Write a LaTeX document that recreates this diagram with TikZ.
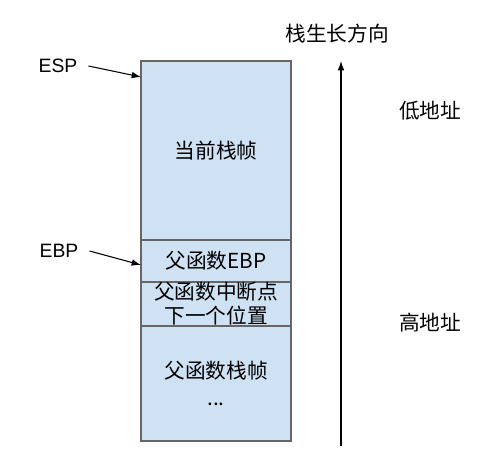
\documentclass[tikz,border=0pt]{standalone}
\usepackage{fontspec}
\setmainfont{Liberation Sans}
\newfontfamily\cjk{Noto Sans CJK SC}
\usetikzlibrary{positioning,arrows.meta}
\definecolor{segfill}{HTML}{CFE2F3}
\definecolor{segline}{HTML}{666666}
\tikzset{
  seg/.style={draw=segline,fill=segfill,line width=1pt,minimum width=112.5pt,inner sep=0pt,outer sep=0pt,align=center,font=\cjk\fontsize{15.5}{18}\selectfont},
  lbl/.style={font=\cjk\fontsize{15.5}{18}\selectfont,inner sep=0pt},
  reg/.style={font=\fontsize{14.5}{17}\selectfont,inner sep=0pt},
}
\begin{document}
\begin{tikzpicture}[x=0.75pt,y=-0.75pt,>={Latex[length=7pt,width=5pt]},line width=0.8pt]
  \useasboundingbox[fill=white] (0,0) rectangle (496,473);
  % stack frames
  \node[seg,minimum height=134.25pt] (cur) at (216,150.5) {当前栈帧};
  \node[seg,minimum height=31.5pt] (pebp) at (216,261) {父函数EBP};
  \node[seg,minimum height=33pt] (pret) at (216,304) {父函数中断点\\下一个位置};
  \node[seg,minimum height=86.25pt] (pfrm) at (216,383.5) {父函数栈帧\\[2pt]...};
  % registers
  \node[reg] (esp) at (58,66) {ESP};
  \node[reg] (ebp) at (59,251) {EBP};
  \coordinate (esptip) at (141,77);
  \coordinate (ebptip) at (141,265);
  \draw[->] ([xshift=8pt]esp.east) -- (esptip);
  \draw[->] ([xshift=8pt]ebp.east) -- (ebptip);
  % growth direction
  \coordinate (gbot) at (341,446);
  \coordinate (gtop) at (341,61);
  \draw[->] (gbot) -- (gtop);
  \node[lbl] (grow) at (337,34) {栈生长方向};
  \node[lbl] (low) at (430,111) {低地址};
  \node[lbl] (high) at (430,323) {高地址};
\end{tikzpicture}
\end{document}
